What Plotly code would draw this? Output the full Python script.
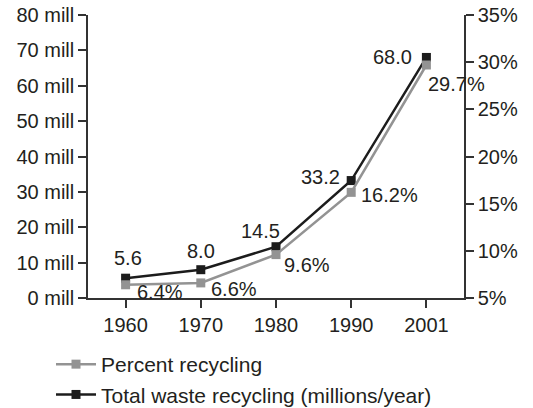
import plotly.graph_objects as go

years = ["1960", "1970", "1980", "1990", "2001"]
total_waste = [5.6, 8.0, 14.5, 33.2, 68.0]          # millions / year
percent_recycling = [6.4, 6.6, 9.6, 16.2, 29.7]      # percent
total_label = ["5.6", "8.0", "14.5", "33.2", "68.0"]
percent_label = ["6.4%", "6.6%", "9.6%", "16.2%", "29.7%"]

FONT = "Liberation Sans, Arial, sans-serif"
TXT = "#231f20"
GRAY = "#939393"
BLACK = "#1c1c1c"

fig = go.Figure()
fig.add_trace(go.Scatter(
    x=years, y=percent_recycling, name="Percent recycling", yaxis="y2",
    mode="lines+markers", line=dict(color=GRAY, width=2.5),
    marker=dict(symbol="square", size=9, color=GRAY),
))
fig.add_trace(go.Scatter(
    x=years, y=total_waste, name="Total waste recycling (millions/year)",
    mode="lines+markers", line=dict(color=BLACK, width=2.5),
    marker=dict(symbol="square", size=9, color=BLACK),
))

# label offsets (style only)
black_off = [("center", 2, 20), ("center", 0, 19), ("center", -16, 16),
             ("right", -9, 4), ("right", -12, 0)]
gray_off = [("left", 9, -7), ("left", 8, -6), ("left", 6, -10),
            ("left", 8, -3), ("left", 0, -19)]

# category axis: annotations are positioned by category index
for i, (v, t, (xa, dx, dy)) in enumerate(zip(total_waste, total_label, black_off)):
    fig.add_annotation(x=i, y=v, xref="x", yref="y", text=t, showarrow=False,
                       xanchor=xa, yanchor="middle", xshift=dx, yshift=dy,
                       font=dict(family=FONT, size=20, color=TXT))
for i, (v, t, (xa, dx, dy)) in enumerate(zip(percent_recycling, percent_label, gray_off)):
    fig.add_annotation(x=i, y=v, xref="x", yref="y2", text=t, showarrow=False,
                       xanchor=xa, yanchor="middle", xshift=dx, yshift=dy,
                       font=dict(family=FONT, size=20, color=TXT))

axis_common = dict(showgrid=False, zeroline=False, showline=True,
                   linecolor="#333333", linewidth=1.5, ticks="outside",
                   ticklen=8, tickwidth=1.5, tickcolor="#333333",
                   tickfont=dict(family=FONT, size=20, color=TXT))

fig.update_layout(
    width=533, height=408,
    margin=dict(l=88, r=69, t=15, b=110, autoexpand=False),
    paper_bgcolor="white", plot_bgcolor="white",
    font=dict(family=FONT, size=20, color=TXT),
    xaxis=dict(type="category", range=[-0.5, 4.5], tickangle=0,
               automargin=False, **axis_common),
    yaxis=dict(range=[0, 80], dtick=10, ticksuffix=" mill",
               automargin=False, **axis_common),
    yaxis2=dict(range=[5, 35], dtick=5, ticksuffix="%", overlaying="y",
                side="right", automargin=False, **axis_common),
    showlegend=True,
    legend=dict(orientation="v", xref="paper", yref="paper",
                x=(51 - 88) / 376, y=(298 - 344) / 283,
                xanchor="left", yanchor="top", itemwidth=40,
                font=dict(family=FONT, size=21, color=TXT),
                bgcolor="rgba(0,0,0,0)", tracegroupgap=0),
)

fig.write_html("out.html", config={"displayModeBar": False},
               post_script="document.body.style.margin='0';document.body.style.overflow='hidden';")
